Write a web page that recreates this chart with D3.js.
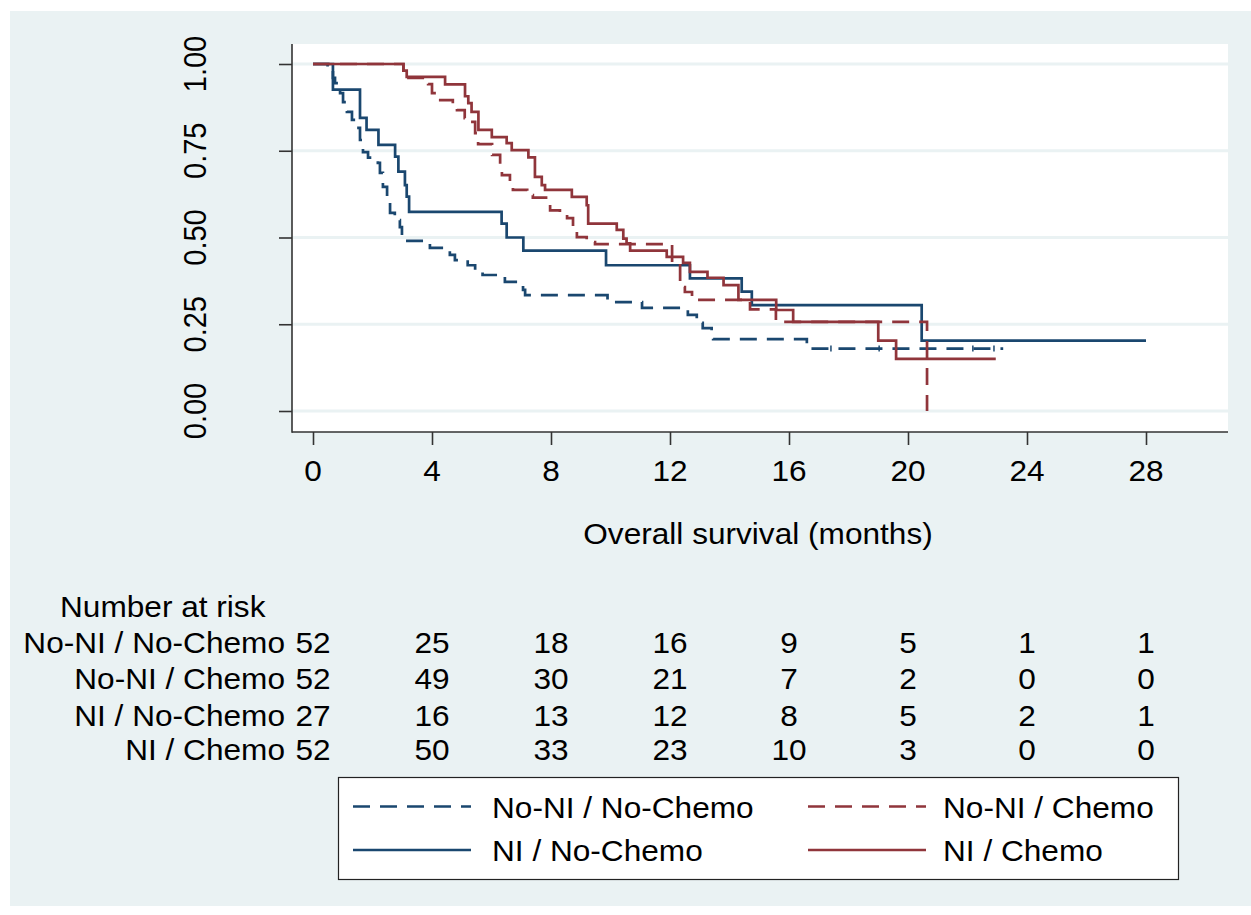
<!DOCTYPE html>
<html>
<head>
<meta charset="utf-8">
<script src="https://cdn.jsdelivr.net/npm/d3@7/dist/d3.min.js"></script>
<style>
  body { margin: 0; background: #fff; }
  text { font-family: "Liberation Sans", Arial, sans-serif; font-size: 29px; fill: #000; }
</style>
</head>
<body>
<svg width="1251" height="915"></svg>
<script>
// groups, in the order of the at-risk table
var groups = ['No-NI / No-Chemo', 'No-NI / Chemo', 'NI / No-Chemo', 'NI / Chemo']

// Kaplan-Meier steps [months, survival]; last point = end of follow-up
var kmNoNINoChemo = [[0,1],[0.49,0.98],[0.67,0.96],[0.74,0.945],[0.91,0.916],[1.01,0.89],[1.14,0.862],
  [1.31,0.839],[1.48,0.816],[1.58,0.781],[1.68,0.746],[1.85,0.73],[2.18,0.715],[2.25,0.686],[2.35,0.646],
  [2.49,0.608],[2.59,0.571],[2.75,0.55],[2.92,0.53],[2.99,0.5],[3.1,0.49],[3.93,0.47],[4.4,0.464],
  [4.6,0.45],[4.77,0.435],[5.2,0.42],[5.45,0.406],[5.7,0.392],[6.45,0.372],[7.06,0.349],[7.13,0.334],
  [9.9,0.314],[11.06,0.297],[12.6,0.277],[12.9,0.254],[13.1,0.239],[13.4,0.225],[13.45,0.207],
  [16.6,0.18],[23.2,0.18]]
var kmNoNIChemo = [[0,1],[3.04,0.981],[3.15,0.96],[3.87,0.942],[4.0,0.916],[4.2,0.896],[4.7,0.885],
  [4.84,0.867],[5.1,0.844],[5.28,0.833],[5.45,0.801],[5.55,0.769],[6.02,0.738],[6.29,0.703],[6.35,0.68],
  [6.62,0.651],[6.72,0.637],[7.2,0.622],[7.39,0.615],[7.97,0.578],[8.3,0.571],[8.54,0.556],[8.74,0.516],
  [8.87,0.501],[9.2,0.487],[9.48,0.481],[12.07,0.427],[12.34,0.357],[12.5,0.343],[12.74,0.32],
  [14.69,0.293],[15.56,0.257],[20.64,0],[20.64,0]]
var kmNINoChemo = [[0,1],[0.67,0.926],[1.58,0.845],[1.8,0.81],[2.2,0.767],[2.76,0.733],[2.87,0.69],
  [3.09,0.651],[3.15,0.618],[3.23,0.574],[6.34,0.54],[6.51,0.5],[7.07,0.462],[9.85,0.42],[12.67,0.382],
  [14.41,0.344],[14.75,0.305],[20.46,0.203],[28.0,0.203]]
var kmNIChemo = [[0,1],[3.04,0.981],[3.15,0.963],[4.44,0.941],[5.11,0.907],[5.22,0.887],[5.33,0.862],
  [5.56,0.81],[6.01,0.789],[6.51,0.772],[6.68,0.752],[7.24,0.731],[7.46,0.675],[7.69,0.651],[7.8,0.637],
  [8.7,0.617],[9.2,0.593],[9.25,0.54],[10.21,0.522],[10.43,0.497],[10.54,0.483],[10.66,0.462],
  [11.89,0.444],[12.44,0.427],[12.67,0.401],[13.26,0.384],[13.8,0.363],[14.3,0.32],[15.57,0.291],
  [16.14,0.257],[19.0,0.203],[19.6,0.15],[22.95,0.15]]

// censored times (small tick marks)
var censNoNINoChemo = [[17.41,0.18],[19.03,0.18],[22.18,0.18],[22.89,0.18]]

// number at risk
var riskTimes = [0, 4, 8, 12, 16, 20, 24, 28]
var riskNoNINoChemo = [52, 25, 18, 16, 9, 5, 1, 1]
var riskNoNIChemo = [52, 49, 30, 21, 7, 2, 0, 0]
var riskNINoChemo = [27, 16, 13, 12, 8, 5, 2, 1]
var riskNIChemo = [52, 50, 33, 23, 10, 3, 0, 0]

var xTicks = [0, 4, 8, 12, 16, 20, 24, 28]
var yTicks = [0, 0.25, 0.5, 0.75, 1]

var navy = '#1a476f', maroon = '#90353b', bg = '#eaf2f3'
var dash = '17,10'
var sx = 1.09 // text in the reference is a bit wider than tall

var series = [
  {name: groups[0], km: kmNoNINoChemo, color: navy, dashed: true, risk: riskNoNINoChemo, cens: censNoNINoChemo},
  {name: groups[1], km: kmNoNIChemo, color: maroon, dashed: true, risk: riskNoNIChemo, cens: []},
  {name: groups[2], km: kmNINoChemo, color: navy, dashed: false, risk: riskNINoChemo, cens: []},
  {name: groups[3], km: kmNIChemo, color: maroon, dashed: false, risk: riskNIChemo, cens: []}
]

var svg = d3.select('svg')
var plot = {left: 292, right: 1228, top: 44, bottom: 432}

var x = d3.scaleLinear().domain([0, 28]).range([313, 1146])
var y = d3.scaleLinear().domain([0, 1]).range([411, 64])

function txt(g, px, py, s, anchor, rot) {
  return g.append('text')
    .attr('transform', 'translate(' + px + ',' + py + ') scale(' + sx + ',1)' + (rot ? ' rotate(-90)' : ''))
    .attr('text-anchor', anchor)
    .text(s)
}

// backgrounds
svg.append('rect').attr('x', 10).attr('y', 11).attr('width', 1241).attr('height', 895).attr('fill', bg)
svg.append('rect').attr('x', plot.left).attr('y', plot.top)
  .attr('width', plot.right - plot.left).attr('height', plot.bottom - plot.top).attr('fill', '#fff')

// gridlines
svg.selectAll('.grid').data(yTicks).enter().append('line')
  .attr('x1', plot.left).attr('x2', plot.right)
  .attr('y1', function(d){ return y(d) }).attr('y2', function(d){ return y(d) })
  .attr('stroke', bg).attr('stroke-width', 3)

// axes
var gy = svg.append('g').attr('transform', 'translate(' + plot.left + ',0)')
  .call(d3.axisLeft(y).tickValues(yTicks).tickSize(13).tickFormat(''))
var gx = svg.append('g').attr('transform', 'translate(0,' + plot.bottom + ')')
  .call(d3.axisBottom(x).tickValues(xTicks).tickSize(13).tickFormat(''))
gy.select('.domain').remove()
gx.select('.domain').remove()
svg.selectAll('.tick line').attr('stroke', '#333').attr('stroke-width', 1.6)
svg.append('line').attr('x1', plot.left).attr('x2', plot.left).attr('y1', plot.top).attr('y2', plot.bottom + 0.8)
  .attr('stroke', '#333').attr('stroke-width', 1.6)
svg.append('line').attr('x1', plot.left).attr('x2', plot.right).attr('y1', plot.bottom).attr('y2', plot.bottom)
  .attr('stroke', '#333').attr('stroke-width', 1.6)

yTicks.forEach(function(d){ txt(svg, 206, y(d), d3.format('.2f')(d), 'middle', true) })
xTicks.forEach(function(d){ txt(svg, x(d), 481, d, 'middle') })
txt(svg, 758, 544, 'Overall survival (months)', 'middle')

// curves
var line = d3.line()
  .x(function(d){ return x(d[0]) })
  .y(function(d){ return y(d[1]) })
  .curve(d3.curveStepAfter)

var order = [0, 2, 1, 3]
order.forEach(function(i){
  var s = series[i]
  svg.append('path').datum(s.km)
    .attr('d', line)
    .attr('fill', 'none')
    .attr('stroke', s.color)
    .attr('stroke-width', 2.7)
    .attr('stroke-dasharray', s.dashed ? dash : null)
  svg.selectAll(null).data(s.cens).enter().append('line')
    .attr('x1', function(d){ return x(d[0]) }).attr('x2', function(d){ return x(d[0]) })
    .attr('y1', function(d){ return y(d[1]) - 3 }).attr('y2', function(d){ return y(d[1]) + 3 })
    .attr('stroke', s.color).attr('stroke-width', 1.5)
})

// number at risk table
txt(svg, 60, 617, 'Number at risk', 'start')
var rowY = [653, 689, 726, 760]
series.forEach(function(s, i){
  txt(svg, 285, rowY[i], s.name, 'end')
  s.risk.forEach(function(v, j){ txt(svg, x(riskTimes[j]), rowY[i], v, 'middle') })
})

// legend
svg.append('rect').attr('x', 338.5).attr('y', 777.5).attr('width', 840).attr('height', 102)
  .attr('fill', '#fff').attr('stroke', '#222').attr('stroke-width', 1.2)
var legPos = [[353, 806.5], [808, 806.5], [353, 850], [808, 850]]
series.forEach(function(s, i){
  var p = legPos[i]
  svg.append('line').attr('x1', p[0]).attr('x2', p[0] + 118).attr('y1', p[1]).attr('y2', p[1])
    .attr('stroke', s.color).attr('stroke-width', 2.7)
    .attr('stroke-dasharray', s.dashed ? dash : null)
  txt(svg, p[0] + (i % 2 ? 135 : 139), p[1] + 11, s.name, 'start')
})
</script>
</body>
</html>
